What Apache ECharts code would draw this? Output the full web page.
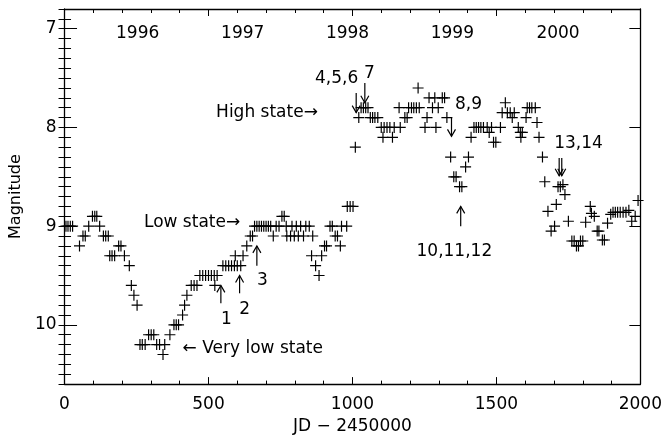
<!DOCTYPE html>
<html>
<head>
<meta charset="utf-8">
<script src="https://cdn.jsdelivr.net/npm/echarts@6/dist/echarts.min.js"></script>
<style>
html,body{margin:0;padding:0;background:#fff}
#Chart{width:665px;height:440px}
</style>
</head>
<body>
<div id="Chart"></div>
<script>
//光变数据 JD-2450000 / 星等
var jd=[5,12,20,28,52,64,72,84,97,105,112,122,135,143,152,157,165,174,188,196,208,225,232,241,252,
	262,270,280,292,301,310,320,330,342,348,366,380,388,396,410,417,425,440,450,460,
	470,480,490,500,510,520,530,522,550,560,570,580,590,600,612,593,620,633,645,653,
	660,668,676,684,692,700,708,716,725,735,745,755,763,770,772,785,790,798,805,812,820,830,838,850,
	858,862,872,884,893,903,910,922,930,940,948,958,962,980,982,992,1002,
	1010,1022,1030,1038,1046,1054,1062,1070,1078,1088,1100,1106,1110,1120,1130,1139,1145,1162,1166,
	1182,1190,1195,1205,1213,1222,1228,1232,1252,1259,1266,1278,1286,1290,1298,1312,1320,1328,
	1341,1352,1360,1372,1380,1393,1403,1412,1422,1430,1438,1446,1455,1468,1475,1483,1490,1498,
	1514,1520,1531,1538,1548,1555,1562,1576,1583,1590,1585,1603,1607,1615,1623,1635,1641,1648,
	1660,1668,1679,1690,1702,1708,1714,1722,1731,1738,1750,1762,1770,1778,1785,1792,1800,
	1810,1826,1830,1840,1850,1856,1868,1875,1886,1897,1905,1913,1921,1930,1940,1950,1960,1970,1982,1992]
var mag=[9.0,9.0,9.0,9.0,9.2,9.1,9.1,9.0,8.9,8.9,8.9,9.0,9.1,9.1,9.1,9.3,9.3,9.3,9.2,9.2,9.3,9.4,9.6,9.7,9.8,
	10.2,10.2,10.2,10.1,10.1,10.1,10.2,10.2,10.3,10.2,10.1,10.0,10.0,10.0,9.9,9.8,9.7,9.6,9.6,9.6,
	9.5,9.5,9.5,9.5,9.5,9.5,9.5,9.6,9.4,9.4,9.4,9.4,9.4,9.4,9.4,9.3,9.3,9.2,9.1,9.1,
	9.0,9.0,9.0,9.0,9.0,9.0,9.0,9.0,9.1,9.0,9.0,8.9,8.9,9.0,9.1,9.1,9.0,9.1,9.0,9.1,9.0,9.1,9.0,9.0,
	9.3,9.1,9.4,9.5,9.3,9.2,9.2,9.0,9.0,9.1,9.1,9.2,9.0,9.0,8.8,8.8,8.8,
	8.2,7.9,7.8,7.8,7.8,7.8,7.9,7.9,7.9,7.9,8.0,8.1,8.0,8.0,8.0,8.1,8.0,7.8,8.0,
	7.9,7.9,7.8,7.8,7.8,7.8,7.6,7.8,8.0,7.9,7.7,7.8,7.7,8.0,7.8,7.7,7.7,7.9,
	8.3,8.5,8.5,8.6,8.6,8.4,8.3,8.1,8.0,8.0,8.0,8.0,8.0,8.0,8.05,8.0,8.15,8.15,
	8.0,7.85,7.75,7.85,7.85,7.9,7.85,8.0,8.05,8.05,8.1,7.9,7.8,7.8,7.8,7.8,7.95,8.1,
	8.3,8.55,8.85,9.05,9.0,8.78,8.6,8.6,8.58,8.68,8.95,9.15,9.15,9.2,9.2,9.15,9.15,
	8.96,8.8,8.87,8.9,9.05,9.05,9.14,9.14,8.97,8.88,8.86,8.86,8.86,8.86,8.86,8.86,8.84,8.95,8.9,8.74]

//刻度
var xTicks=[0,500,1000,1500,2000]
var yMajor=[7,8,9,10]

//年份
var yearText=['1996','1997','1998','1999','2000']
var yearX=[254,619,983,1347,1714]
var yearY=[7.05,7.05,7.05,7.05,7.05]

//注释文字
var noteText=['High state→','Low state→','← Very low state','1','2','3','4,5,6','7','8,9','10,11,12','13,14']
var noteX=[880,610,410,562,626,687,945,1059,1403,1354,1785]
var noteY=[7.85,8.96,10.24,9.95,9.85,9.55,7.5,7.45,7.77,9.26,8.16]

//箭头
var arrowX=[543,608,668,1013,1043,1344,1376,1718,1727]
var arrowFrom=[9.78,9.68,9.4,7.65,7.55,7.9,9.0,8.31,8.31]
var arrowTo=[9.6,9.5,9.2,7.85,7.75,8.09,8.8,8.49,8.49]

var FONT='DejaVu Sans'
var plus='path://M5,0h1.2v11.2h-1.2z M0,5h11.2v1.2h-11.2z'

function renderArrow(params,api){
	var p0=api.coord([api.value(0),api.value(1)])
	var p1=api.coord([api.value(0),api.value(2)])
	var d=p1[1]>p0[1]?1:-1
	return {type:'group',children:[
		{type:'line',shape:{x1:p0[0],y1:p0[1],x2:p1[0],y2:p1[1]},style:{stroke:'#000',lineWidth:1.2}},
		{type:'polyline',shape:{points:[[p1[0]-4,p1[1]-d*7],[p1[0],p1[1]],[p1[0]+4,p1[1]-d*7]]},style:{stroke:'#000',fill:null,lineWidth:1.2}}
	]}
}

function makeTextRender(texts){
	return function(params,api){
		var p=api.coord([api.value(0),api.value(1)])
		var t=texts[api.value(2)]
		var al='center'
		if(t.charAt(0)=='←') al='left'
		else if(t.charAt(t.length-1)=='→') al='right'
		return {type:'text',x:p[0],y:p[1],style:{text:t,fill:'#000',fontSize:17,fontFamily:FONT,align:al,verticalAlign:'middle'}}
	}
}

function xAxisOpt(pos,showLabel,tickLen,minorLen){
	return {
		type:'value',position:pos,min:0,max:2000,interval:500,
		axisLine:{show:true,onZero:false,lineStyle:{color:'#000',width:1.3}},
		axisTick:{show:true,inside:true,length:tickLen,lineStyle:{color:'#000',width:1}},
		minorTick:{show:true,splitNumber:5,length:minorLen,lineStyle:{color:'#000',width:1}},
		splitLine:{show:false},
		axisLabel:{show:showLabel,margin:12,color:'#000',fontSize:17,fontFamily:FONT,
			customValues:xTicks,formatter:function(v){return String(v)}}
	}
}

function yAxisMajor(pos,showLabel,tickLen){
	return {
		type:'value',position:pos,inverse:true,min:6.8,max:10.6,
		axisLine:{show:true,onZero:false,lineStyle:{color:'#000',width:1.3}},
		axisTick:{show:true,inside:true,length:tickLen,customValues:yMajor,lineStyle:{color:'#000',width:1}},
		splitLine:{show:false},
		axisLabel:{show:showLabel,customValues:yMajor,margin:8,color:'#000',fontSize:17,fontFamily:FONT,
			formatter:function(v){return String(v)}}
	}
}

function yAxisMinor(pos,tickLen){
	return {
		type:'value',position:pos,inverse:true,min:6.8,max:10.6,interval:0.1,
		axisLine:{show:false},
		axisTick:{show:true,inside:true,length:tickLen,lineStyle:{color:'#000',width:1}},
		splitLine:{show:false},
		axisLabel:{show:false}
	}
}

function drawChar(){
	var myChart=echarts.init(document.getElementById('Chart'))
	var pts=[]
	$each(jd,function(i,x){ pts.push([x,mag[i]]) })
	var years=[],notes=[],arrows=[]
	$each(yearX,function(i,x){ years.push([x,yearY[i],i]) })
	$each(noteX,function(i,x){ notes.push([x,noteY[i],i]) })
	$each(arrowX,function(i,x){ arrows.push([x,arrowFrom[i],arrowTo[i]]) })

	var bottom=xAxisOpt('bottom',true,7,3.5)
	bottom.name='JD − 2450000'
	bottom.nameLocation='middle'
	bottom.nameGap=31
	bottom.nameTextStyle={color:'#000',fontSize:17,fontFamily:FONT}

	var left=yAxisMajor('left',true,12.5)
	left.name='Magnitude'
	left.nameLocation='middle'
	left.nameGap=37
	left.nameTextStyle={color:'#000',fontSize:16,fontFamily:FONT}

	var option={
		animation:false,
		backgroundColor:'#fff',
		grid:{left:63,top:9,right:22,bottom:54,containLabel:false},
		xAxis:[bottom,xAxisOpt('top',false,7,4)],
		yAxis:[left,yAxisMinor('left',6.5),yAxisMajor('right',false,11),yAxisMinor('right',6)],
		series:[
			{type:'scatter',xAxisIndex:0,yAxisIndex:0,data:pts,symbol:plus,symbolSize:11,
				itemStyle:{color:'#000',opacity:1},silent:true},
			{type:'custom',xAxisIndex:0,yAxisIndex:0,data:arrows,renderItem:renderArrow,silent:true},
			{type:'custom',xAxisIndex:0,yAxisIndex:0,data:years,renderItem:makeTextRender(yearText),silent:true},
			{type:'custom',xAxisIndex:0,yAxisIndex:0,data:notes,renderItem:makeTextRender(noteText),silent:true}
		]
	}
	myChart.setOption(option)
}

function $each(arr,fn){
	for(var i=0;i<arr.length;i++) fn(i,arr[i])
}

drawChar()
</script>
</body>
</html>
